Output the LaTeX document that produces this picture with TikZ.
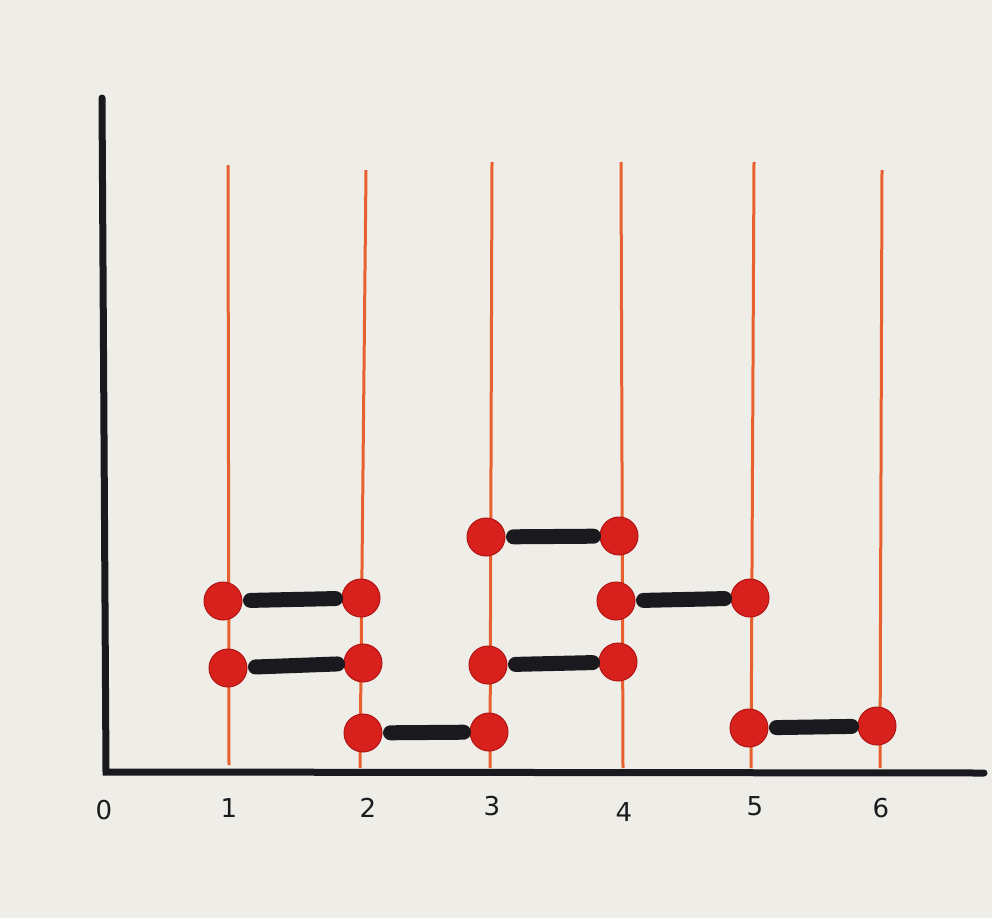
\documentclass[tikz,border=0pt]{standalone}
\usepackage{fontspec}
\setmainfont{DejaVu Sans}
\definecolor{paper}{HTML}{EFEDE7}
\definecolor{rodred}{HTML}{E8602E}
\definecolor{beadred}{HTML}{D8201C}
\definecolor{beadedge}{HTML}{B01414}
\definecolor{ink}{HTML}{1A1A1E}
\tikzset{
  axis/.style={draw=ink, line width=7pt, line cap=round},
  rod/.style={draw=rodred, line width=3pt},
  bead/.style={circle, fill=beadred, draw=beadedge, line width=1pt, minimum size=38pt, inner sep=0pt},
  bar/.style={draw=ink, line width=15pt, line cap=round, shorten <=8pt, shorten >=6pt},
  lbl/.style={font=\fontsize{26}{26}\selectfont, text=ink, inner sep=0pt}
}
\begin{document}
\begin{tikzpicture}[x=1pt,y=-1pt]
\useasboundingbox (0,0) rectangle (992,918);
\fill[paper] (0,0) rectangle (992,918);
% rods
\coordinate (r1t) at (228,165); \coordinate (r1b) at (229,765);
\coordinate (r2t) at (366,170); \coordinate (r2b) at (360,768);
\coordinate (r3t) at (492,162); \coordinate (r3b) at (490,768);
\coordinate (r4t) at (621,162); \coordinate (r4b) at (623,768);
\coordinate (r5t) at (754,162); \coordinate (r5b) at (751,768);
\coordinate (r6t) at (882,170); \coordinate (r6b) at (880,768);
\foreach \i in {1,...,6} { \draw[rod] (r\i t) -- (r\i b); }
% axes
\coordinate (o) at (106,772);
\coordinate (ytop) at (102,98);
\coordinate (xend) at (984,773);
\draw[axis] (ytop) -- (o) -- (xend);
% labels
\node[lbl] (l0) at (104,810) {0};
\node[lbl] (l1) at (229,808) {1};
\node[lbl] (l2) at (368,808) {2};
\node[lbl] (l3) at (492,806) {3};
\node[lbl] (l4) at (624,812) {4};
\node[lbl] (l5) at (755,806) {5};
\node[lbl] (l6) at (881,808) {6};
% beads
\node[bead] (a1) at (223,601) {};
\node[bead] (a2) at (361,598) {};
\node[bead] (b1) at (228,668) {};
\node[bead] (b2) at (363,663) {};
\node[bead] (c1) at (363,733) {};
\node[bead] (c2) at (489,732) {};
\node[bead] (d1) at (486,537) {};
\node[bead] (d2) at (619,536) {};
\node[bead] (e1) at (488,665) {};
\node[bead] (e2) at (618,662) {};
\node[bead] (f1) at (616,601) {};
\node[bead] (f2) at (750,598) {};
\node[bead] (g1) at (749,728) {};
\node[bead] (g2) at (877,726) {};
% bars
\draw[bar] (a1) -- (a2);
\draw[bar] (b1) -- (b2);
\draw[bar] (c1) -- (c2);
\draw[bar] (d1) -- (d2);
\draw[bar] (e1) -- (e2);
\draw[bar] (f1) -- (f2);
\draw[bar] (g1) -- (g2);
\end{tikzpicture}
\end{document}
